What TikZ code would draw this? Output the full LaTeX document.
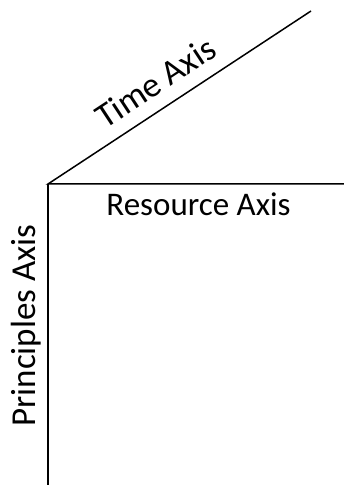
\documentclass[tikz,border=0pt]{standalone}
\usepackage{fontspec}
\setmainfont{Carlito}
\usepackage{tikz}
\usetikzlibrary{calc, positioning}
\tikzset{
	every node/.style={
		font=\fontsize{33}{40}\selectfont
	},
	axis/.style={
		draw=black,
		line width=1.5pt
	},
	axislabel/.style={
		anchor=base,
		inner sep=0pt
	},
	biglabel/.style={
		axislabel,
		font=\fontsize{35}{42}\selectfont
	}
}

\begin{document}
\begin{tikzpicture}[x=1pt,y=1pt]
  \useasboundingbox (0,0) rectangle (344,485);

  \coordinate (O) at (48,301);
  \coordinate (T) at (311,474);
  \coordinate (R) at (344,301);
  \coordinate (P) at (48,0);

  \draw[axis] (T) -- (O) -- (R);
  \draw[axis] (O) -- (P);

  \node[biglabel, rotate=33.33] (time) at ($(O)!0.463!(T)+(123.33:14)$) {Time Axis};
  \node[axislabel] (resource) at (198.5,269) {Resource Axis};
  \node[biglabel, rotate=90] (principles) at (35,325.5-166) {Principles Axis};
\end{tikzpicture}
\end{document}
